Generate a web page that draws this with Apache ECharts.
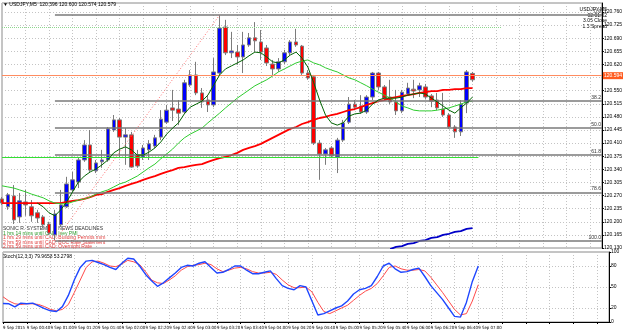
<!DOCTYPE html>
<html>
<head>
<meta charset="utf-8">
<script src="https://cdn.jsdelivr.net/npm/echarts@6/dist/echarts.min.js"></script>
<style>
  html, body { margin: 0; padding: 0; background: #fff; }
  #chart { width: 625px; height: 334px; }
</style>
</head>
<body>
<div id="chart"></div>
<script>
// USDJPY M5, 9 Sep 2015 - bars 00:20 .. 07:00
const opens = [
  120.261, 120.240, 120.269, 120.213, 120.253, 120.240, 120.224, 120.213, 120.194, 120.165,
  120.192, 120.240, 120.285, 120.306, 120.365, 120.405, 120.336, 120.360, 120.365, 120.445,
  120.472, 120.426, 120.432, 120.378, 120.373, 120.392, 120.402, 120.426, 120.466, 120.504,
  120.501, 120.493, 120.565, 120.592, 120.544, 120.525, 120.512, 120.597, 120.720, 120.651,
  120.653, 120.640, 120.672, 120.691, 120.680, 120.664, 120.621, 120.608, 120.627, 120.651,
  120.680, 120.669, 120.597, 120.587, 120.410, 120.381, 120.397, 120.373, 120.418, 120.466,
  120.514, 120.509, 120.493, 120.533, 120.597, 120.560, 120.533, 120.520, 120.496, 120.541,
  120.554, 120.552, 120.560, 120.536, 120.525, 120.501, 120.485, 120.453, 120.440, 120.517,
  120.596
];
const closes = [
  120.250, 120.272, 120.205, 120.256, 120.245, 120.216, 120.210, 120.192, 120.170, 120.221,
  120.245, 120.301, 120.312, 120.365, 120.405, 120.338, 120.357, 120.365, 120.448, 120.472,
  120.426, 120.432, 120.346, 120.349, 120.397, 120.408, 120.424, 120.474, 120.498, 120.498,
  120.490, 120.571, 120.592, 120.544, 120.520, 120.512, 120.600, 120.717, 120.651, 120.656,
  120.640, 120.672, 120.691, 120.683, 120.653, 120.624, 120.608, 120.627, 120.651, 120.680,
  120.672, 120.597, 120.584, 120.410, 120.381, 120.392, 120.376, 120.418, 120.464, 120.514,
  120.506, 120.493, 120.533, 120.597, 120.560, 120.530, 120.520, 120.496, 120.546, 120.557,
  120.549, 120.563, 120.533, 120.522, 120.504, 120.485, 120.453, 120.440, 120.514, 120.600,
  120.579
];
const highs = [
  120.266, 120.277, 120.298, 120.277, 120.285, 120.258, 120.232, 120.218, 120.200, 120.232,
  120.285, 120.320, 120.333, 120.373, 120.418, 120.445, 120.365, 120.392, 120.453, 120.485,
  120.477, 120.450, 120.440, 120.392, 120.405, 120.418, 120.432, 120.498, 120.512, 120.552,
  120.525, 120.579, 120.605, 120.627, 120.557, 120.538, 120.637, 120.752, 120.739, 120.707,
  120.672, 120.707, 120.704, 120.733, 120.712, 120.672, 120.632, 120.637, 120.659, 120.685,
  120.715, 120.672, 120.605, 120.592, 120.418, 120.397, 120.402, 120.424, 120.472, 120.533,
  120.525, 120.538, 120.538, 120.600, 120.600, 120.565, 120.579, 120.552, 120.552, 120.571,
  120.579, 120.571, 120.568, 120.541, 120.544, 120.544, 120.490, 120.458, 120.525, 120.605,
  120.600
];
const lows = [
  120.245, 120.232, 120.194, 120.197, 120.216, 120.200, 120.197, 120.183, 120.165, 120.151,
  120.186, 120.237, 120.280, 120.290, 120.360, 120.333, 120.330, 120.344, 120.360, 120.440,
  120.370, 120.352, 120.344, 120.344, 120.365, 120.365, 120.397, 120.418, 120.461, 120.469,
  120.458, 120.488, 120.560, 120.538, 120.504, 120.493, 120.506, 120.592, 120.645, 120.637,
  120.619, 120.597, 120.667, 120.653, 120.632, 120.616, 120.592, 120.600, 120.621, 120.645,
  120.667, 120.592, 120.579, 120.405, 120.312, 120.352, 120.370, 120.330, 120.413, 120.461,
  120.498, 120.488, 120.488, 120.525, 120.552, 120.525, 120.514, 120.485, 120.490, 120.536,
  120.530, 120.533, 120.528, 120.506, 120.498, 120.480, 120.448, 120.424, 120.429, 120.490,
  120.574
];

// moving averages as drawn on the chart
const maFast = [
  null, null, null, null, null, null, 120.250, 120.240, 120.224, 120.216,
  120.232, 120.253, 120.280, 120.306, 120.322, 120.333, 120.341, 120.352, 120.365, 120.384,
  120.394, 120.400, 120.392, 120.378, 120.378, 120.386, 120.397, 120.413, 120.434, 120.450,
  120.464, 120.488, 120.506, 120.514, 120.522, 120.538, 120.565, 120.592, 120.608, 120.616,
  120.624, 120.632, 120.643, 120.653, 120.651, 120.640, 120.627, 120.624, 120.632, 120.645,
  120.653, 120.637, 120.613, 120.571, 120.525, 120.485, 120.464, 120.458, 120.464, 120.482,
  120.488, 120.490, 120.498, 120.514, 120.525, 120.530, 120.530, 120.530, 120.533, 120.538,
  120.541, 120.544, 120.541, 120.530, 120.520, 120.509, 120.498, 120.490, 120.504, 120.517,
  120.533
];
const maMid = [
  120.296, 120.293, 120.290, 120.285, 120.280, 120.274, 120.269, 120.264, 120.256, 120.250,
  120.248, 120.248, 120.253, 120.258, 120.261, 120.266, 120.274, 120.280, 120.285, 120.293,
  120.301, 120.306, 120.314, 120.322, 120.333, 120.344, 120.354, 120.368, 120.381, 120.394,
  120.410, 120.424, 120.434, 120.442, 120.450, 120.464, 120.477, 120.490, 120.504, 120.517,
  120.530, 120.541, 120.552, 120.563, 120.571, 120.579, 120.589, 120.600, 120.608, 120.616,
  120.624, 120.629, 120.632, 120.624, 120.619, 120.611, 120.605, 120.600, 120.592, 120.584,
  120.579, 120.571, 120.563, 120.554, 120.546, 120.538, 120.530, 120.520, 120.509, 120.504,
  120.498, 120.496, 120.496, 120.496, 120.498, 120.501, 120.504, 120.509, 120.514, 120.520,
  120.522
];
const maSlow = [
  120.250, 120.250, 120.250, 120.250, 120.250, 120.250, 120.250, 120.250, 120.250, 120.250,
  120.250, 120.253, 120.256, 120.258, 120.261, 120.266, 120.272, 120.274, 120.280, 120.285,
  120.290, 120.296, 120.301, 120.306, 120.312, 120.317, 120.322, 120.328, 120.333, 120.338,
  120.344, 120.346, 120.349, 120.352, 120.354, 120.360, 120.365, 120.370, 120.373, 120.378,
  120.384, 120.392, 120.397, 120.402, 120.408, 120.416, 120.424, 120.432, 120.440, 120.448,
  120.453, 120.461, 120.466, 120.472, 120.477, 120.480, 120.485, 120.488, 120.493, 120.498,
  120.501, 120.506, 120.512, 120.517, 120.522, 120.525, 120.530, 120.533, 120.536, 120.538,
  120.541, 120.544, 120.546, 120.549, 120.549, 120.552, 120.552, 120.554, 120.554, 120.557,
  120.557
];
const maLong = [
  null, null, null, null, null, null, null, null, null, null,
  null, null, null, null, null, null, null, null, null, null,
  null, null, null, null, null, null, null, null, null, null,
  null, null, null, null, null, null, null, null, null, null,
  null, null, null, null, null, null, null, null, null, null,
  null, null, null, null, null, null, null, null, null, null,
  null, null, null, null, null, null, 120.127, 120.133, 120.135, 120.141,
  120.143, 120.149, 120.151, 120.157, 120.159, 120.165, 120.168, 120.173, 120.175, 120.181,
  120.183
];

// Stoch(12,3,3)
const stochMain = [
  26.5, 26, 21.5, 27, 26, 27, 23, 19, 16, 15,
  22, 38, 60, 78, 87, 88, 85, 82, 78, 75,
  84, 91, 90, 80, 68, 59, 51, 56, 63, 70,
  78, 81, 80, 84, 86, 78, 70, 71, 75, 80,
  80, 74, 69, 69, 71, 73, 62, 52, 48, 46,
  52, 50, 30, 10, 12, 16, 20, 23, 30, 40,
  46, 48, 52, 65, 80, 84, 76, 71, 72, 75,
  77, 65, 52, 42, 32, 20, 8, 7, 28, 58,
  79.97
];
const stochSignal = [
  36, 30, 26, 25, 26, 26, 25, 22, 18, 16,
  18, 25, 42, 60, 78, 86, 87, 84, 80, 79,
  83, 88, 86, 82, 72, 60, 56, 55, 60, 66,
  74, 79, 81, 82, 84, 82, 76, 72, 74, 77,
  78, 76, 72, 70, 70, 71, 68, 60, 53, 49,
  49, 50, 43, 28, 15, 12, 16, 20, 24, 31,
  38, 44, 48, 55, 66, 78, 80, 76, 74, 74,
  75, 73, 64, 53, 42, 30, 18, 10, 12, 30,
  53.28
];

const timeLabels = [
  '9 Sep 2015', '9 Sep 00:40', '9 Sep 01:00', '9 Sep 01:20', '9 Sep 01:40', '9 Sep 02:00',
  '9 Sep 02:20', '9 Sep 02:40', '9 Sep 03:00', '9 Sep 03:20', '9 Sep 03:40', '9 Sep 04:00',
  '9 Sep 04:20', '9 Sep 04:40', '9 Sep 05:00', '9 Sep 05:20', '9 Sep 05:40', '9 Sep 06:00',
  '9 Sep 06:20', '9 Sep 06:40', '9 Sep 07:00'
];
const priceTicks = [
  120.130, 120.165, 120.200, 120.235, 120.270, 120.305, 120.340, 120.375, 120.410, 120.445,
  120.480, 120.515, 120.550, 120.585, 120.620, 120.655, 120.690, 120.725, 120.760
];
const stochTicks = [0, 20, 50, 80, 100];

// fibonacci retracement drawn from the 00:05 low to the 03:25 high
const fibLevels = [120.752, 120.522, 120.450, 120.379, 120.278, 120.149];
const fibNames = ['0.0', '38.2', '50.0', '61.8', '78.6', '100.0'];
const fibFrom = 9, fibHighBar = 37;
const askPrice = 120.594, bidPrice = 120.579;
const greenDotted = 120.720, greenLine = 120.373;

const slotCount = 103;   // bars plus empty shift area on the right
const slots = Array.from({ length: slotCount }, (_, i) => String(i));
const candles = opens.map((o, i) => [o, closes[i], lows[i], highs[i]]);

const tiny = 5;
const font = 'Liberation Sans';
const narrow = "'Liberation Sans Narrow', 'DejaVu Sans Condensed', 'Liberation Sans'";
const dotted = { color: '#c4c4c4', type: [1, 2], width: 1 };

const fibLines = fibLevels.map((v, i) => [
  { coord: [fibFrom, v], label: { show: true, formatter: fibNames[i] } },
  { coord: [slotCount - 1, v] }
]);

const chart = echarts.init(document.getElementById('chart'));
chart.setOption({
  animation: false,
  backgroundColor: '#ffffff',
  textStyle: { fontFamily: font },
  grid: [
    { left: 2, right: 16, top: 3, height: 245, show: true, borderColor: '#8a8a8a', borderWidth: 1 },
    { left: 2, right: 16, top: 252, height: 70, show: true, borderColor: '#8a8a8a', borderWidth: 1 }
  ],
  xAxis: [
    {
      type: 'category', gridIndex: 0, data: slots, boundaryGap: false,
      axisLine: { show: false }, axisTick: { show: false }, axisLabel: { show: false },
      splitLine: { show: true, interval: 3, lineStyle: dotted }
    },
    {
      type: 'category', gridIndex: 1, data: slots, boundaryGap: false,
      axisLine: { show: true, lineStyle: { color: '#000' } },
      axisTick: { show: true, interval: 3, length: 2, lineStyle: { color: '#000' } },
      axisLabel: {
        interval: 3, showMinLabel: true, fontSize: 4.3, fontFamily: narrow, color: '#000',
        margin: 4, align: 'left',
        formatter: (v, i) => timeLabels[i / 4] || ''
      },
      splitLine: { show: true, interval: 3, lineStyle: dotted }
    }
  ],
  yAxis: [
    {
      type: 'value', gridIndex: 0, position: 'right', min: 120.130, max: 120.784,
      axisLine: { show: true, lineStyle: { color: '#000' } },
      axisTick: { show: true, length: 2, customValues: priceTicks, lineStyle: { color: '#000' } },
      axisLabel: { fontSize: tiny, color: '#000', margin: 2, customValues: priceTicks, formatter: v => v.toFixed(3) },
      splitLine: { show: true, lineStyle: dotted }
    },
    {
      type: 'value', gridIndex: 1, position: 'right', min: 0, max: 100,
      axisLine: { show: true, lineStyle: { color: '#000' } },
      axisTick: { show: true, length: 2, customValues: stochTicks, lineStyle: { color: '#000' } },
      axisLabel: { fontSize: tiny, color: '#000', margin: 2, customValues: stochTicks },
      splitLine: { show: true, lineStyle: dotted }
    }
  ],
  series: [
    {
      type: 'candlestick', xAxisIndex: 0, yAxisIndex: 0, data: candles, barWidth: 4, z: 3,
      itemStyle: { color: '#0000ff', color0: '#ff0000', borderColor: '#7c7c7c', borderColor0: '#7c7c7c', borderWidth: 1 },
      markLine: {
        silent: true, symbol: ['none', 'none'], animation: false,
        label: { show: false, fontSize: tiny, color: '#333', position: 'insideEndTop', distance: 1 },
        lineStyle: { color: '#7a7a7a', width: 1.5, type: 'solid' },
        data: fibLines.concat([
          [{ coord: [fibFrom, fibLevels[5]], lineStyle: { color: '#ff7070', type: [1, 2], width: 1 } },
           { coord: [fibHighBar, fibLevels[0]] }],
          [{ coord: [0, greenDotted], lineStyle: { color: '#8ed88e', type: [1, 1], width: 1 } },
           { coord: [85, greenDotted] }],
          [{ coord: [0, greenLine], lineStyle: { color: '#33e033', type: 'solid', width: 1 } },
           { coord: [81, greenLine] }],
          {
            yAxis: askPrice, lineStyle: { color: '#ff8c60', type: 'solid', width: 1 },
            label: { show: true, position: 'end', distance: 1, formatter: askPrice.toFixed(3),
                     backgroundColor: '#ff5a1e', color: '#fff', fontSize: tiny, padding: [1, 1] }
          },
          {
            yAxis: bidPrice, lineStyle: { opacity: 0 },
            label: { show: true, position: 'end', distance: 1, formatter: bidPrice.toFixed(3),
                     backgroundColor: '#000', color: '#fff', fontSize: tiny, padding: [1, 1] }
          }
        ])
      }
    },
    { type: 'line', xAxisIndex: 0, yAxisIndex: 0, data: maSlow, showSymbol: false, z: 4,
      lineStyle: { color: '#ff0000', width: 1.8 } },
    { type: 'line', xAxisIndex: 0, yAxisIndex: 0, data: maMid, showSymbol: false, z: 4,
      lineStyle: { color: '#2fcc2f', width: 1 } },
    { type: 'line', xAxisIndex: 0, yAxisIndex: 0, data: maFast, showSymbol: false, z: 5,
      lineStyle: { color: '#006400', width: 1 } },
    { type: 'line', xAxisIndex: 0, yAxisIndex: 0, data: maLong, showSymbol: false, z: 4,
      lineStyle: { color: '#0000c8', width: 1.8 } },
    { type: 'line', xAxisIndex: 1, yAxisIndex: 1, data: stochSignal, showSymbol: false,
      lineStyle: { color: '#ff4a4a', width: 1 } },
    { type: 'line', xAxisIndex: 1, yAxisIndex: 1, data: stochMain, showSymbol: false,
      lineStyle: { color: '#1e46ff', width: 1.4 } }
  ],
  graphic: [
    { type: 'text', x: 3, y: 2, style: { text: '\u25BC USDJPY,M5  120.596 120.600 120.574 120.579', font: '5px ' + font, fill: '#000' } },
    { type: 'text', x: 607, y: 7, style: { text: 'USDJPY,M5\n02:01:02\n3.05 Close\n1.5 Spread', align: 'right', font: '5px ' + font, fill: '#000', lineHeight: 5.5 } },
    { type: 'text', x: 3, y: 226, style: { text: 'SONIC R. SYSTEM        NEWS DEADLINES', font: '5px ' + font, fill: '#333' } },
    { type: 'text', x: 3, y: 231, style: { text: '1 hrs 14 mins until CAD: Ivey PMI', font: '5px ' + font, fill: '#2a9a2a' } },
    { type: 'text', x: 3, y: 235.5, style: { text: '1 hrs 29 mins until CAD: Building Permits m/m', font: '5px ' + font, fill: '#e03c3c' } },
    { type: 'text', x: 3, y: 240, style: { text: '2 hrs 59 mins until CAD: BOC Rate Statement', font: '5px ' + font, fill: '#e03c3c' } },
    { type: 'text', x: 3, y: 244.5, style: { text: '2 hrs 59 mins until CAD: Overnight Rate', font: '5px ' + font, fill: '#e03c3c' } },
    { type: 'text', x: 3, y: 254, style: { text: 'Stoch(12,3,3) 79.9658 53.2798', font: '5px ' + font, fill: '#000' } }
  ]
});
</script>
</body>
</html>
